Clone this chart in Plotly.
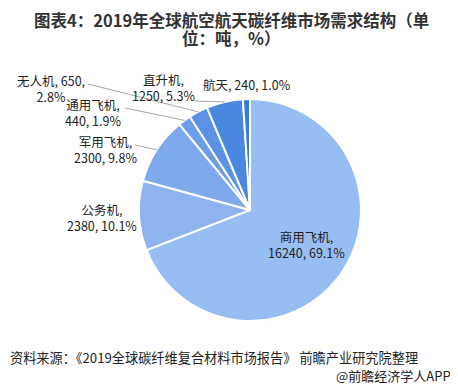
import math
import plotly.graph_objects as go

# page is 458x390 but the html body has an 8px margin, so the figure is 450x382
# and all positions below are given in page pixels, then shifted by OFF.
PAGE_W, PAGE_H = 458, 390
OFF = 8
FW, FH = PAGE_W - OFF, PAGE_H - OFF

categories = ["商用飞机", "公务机", "军用飞机", "通用飞机", "无人机", "直升机", "航天"]
values = [16240, 2380, 2300, 440, 650, 1250, 240]
colors = ["#97BEF3", "#8DB4EF", "#7EA9EC", "#6C9DE8", "#5B92E5", "#4A87E1", "#3A7BDD"]

title_lines = ["图表4：2019年全球航空航天碳纤维市场需求结构（单", "位：吨，%）"]
source_text = "资料来源：《2019全球碳纤维复合材料市场报告》 前瞻产业研究院整理"
brand_text = "@前瞻经济学人APP"

# pie geometry (page pixels)
CX, CY, R = 250, 210, 111

def px(x):
    return (x - OFF) / FW

def py(y):
    return 1 - (y - OFF) / FH

FONT = "Noto Sans CJK SC, Microsoft YaHei, sans-serif"

fig = go.Figure(go.Pie(
    labels=categories,
    values=values,
    sort=False,
    direction="clockwise",
    rotation=0,
    marker=dict(colors=colors, line=dict(color="white", width=2)),
    textinfo="none",
    hoverinfo="label+value+percent",
    showlegend=False,
    domain=dict(x=[px(CX - R), px(CX + R)], y=[py(CY + R), py(CY - R)]),
))

total = sum(values)
pcts = [v / total * 100 for v in values]

def lab(i):
    return categories[i], values[i], pcts[i]

label_specs = []
n, v, p = lab(0); label_specs.append(([f"{n},", f"{v}, {p:.1f}%"], 306, 237, None))
n, v, p = lab(1); label_specs.append(([f"{n},", f"{v}, {p:.1f}%"], 102, 210, None))
n, v, p = lab(2); label_specs.append(([f"{n},", f"{v}, {p:.1f}%"], 105, 142, (135, 145)))
n, v, p = lab(3); label_specs.append(([f"{n},", f"{v}, {p:.1f}%"], 93, 105, (125, 108)))
n, v, p = lab(4); label_specs.append(([f"{n}, {v},", f"{p:.1f}%"], 51, 81, (88, 84)))
n, v, p = lab(5); label_specs.append(([f"{n},", f"{v}, {p:.1f}%"], 163, 80, (195, 101)))
n, v, p = lab(6); label_specs.append(([f"{n}, {v}, {p:.1f}%"], 247, 85, None))

annotations = []
shapes = []
cum = 0.0
for i, (lines, x, y0, lead) in enumerate(label_specs):
    frac = values[i] / total
    mid = (cum + frac / 2) * 2 * math.pi
    cum += frac
    yc = y0 + (len(lines) - 1) * 8.5 - 1
    annotations.append(dict(
        text="<br>".join(lines), x=px(x), y=py(yc), xref="paper", yref="paper",
        showarrow=False, xanchor="center", yanchor="middle", align="center",
        font=dict(family=FONT, size=12.5, color="#222222"),
    ))
    if lead is not None:
        ex = CX + R * math.sin(mid)
        ey = CY - R * math.cos(mid)
        shapes.append(dict(
            type="line", xref="paper", yref="paper",
            x0=px(lead[0]), y0=py(lead[1]), x1=px(ex), y1=py(ey),
            line=dict(color="#A6A6A6", width=1),
        ))

for k, t in enumerate(title_lines):
    annotations.append(dict(
        text=f"<b>{t}</b>", x=px(231), y=py(22 + k * 18 - 2), xref="paper", yref="paper",
        showarrow=False, xanchor="center", yanchor="middle",
        font=dict(family=FONT, size=16.5, color="#333333"),
    ))

annotations.append(dict(
    text=source_text, x=px(8), y=py(358 - 1), xref="paper", yref="paper",
    showarrow=False, xanchor="left", yanchor="middle",
    font=dict(family=FONT, size=13.2, color="#222222"),
))
annotations.append(dict(
    text=brand_text, x=px(453), y=py(376 - 1), xref="paper", yref="paper",
    showarrow=False, xanchor="right", yanchor="middle",
    font=dict(family=FONT, size=13, color="#222222"),
))

fig.update_layout(
    width=FW, height=FH,
    margin=dict(l=0, r=0, t=0, b=0),
    paper_bgcolor="white",
    plot_bgcolor="white",
    annotations=annotations,
    shapes=shapes,
)

fig.write_html("out.html")
